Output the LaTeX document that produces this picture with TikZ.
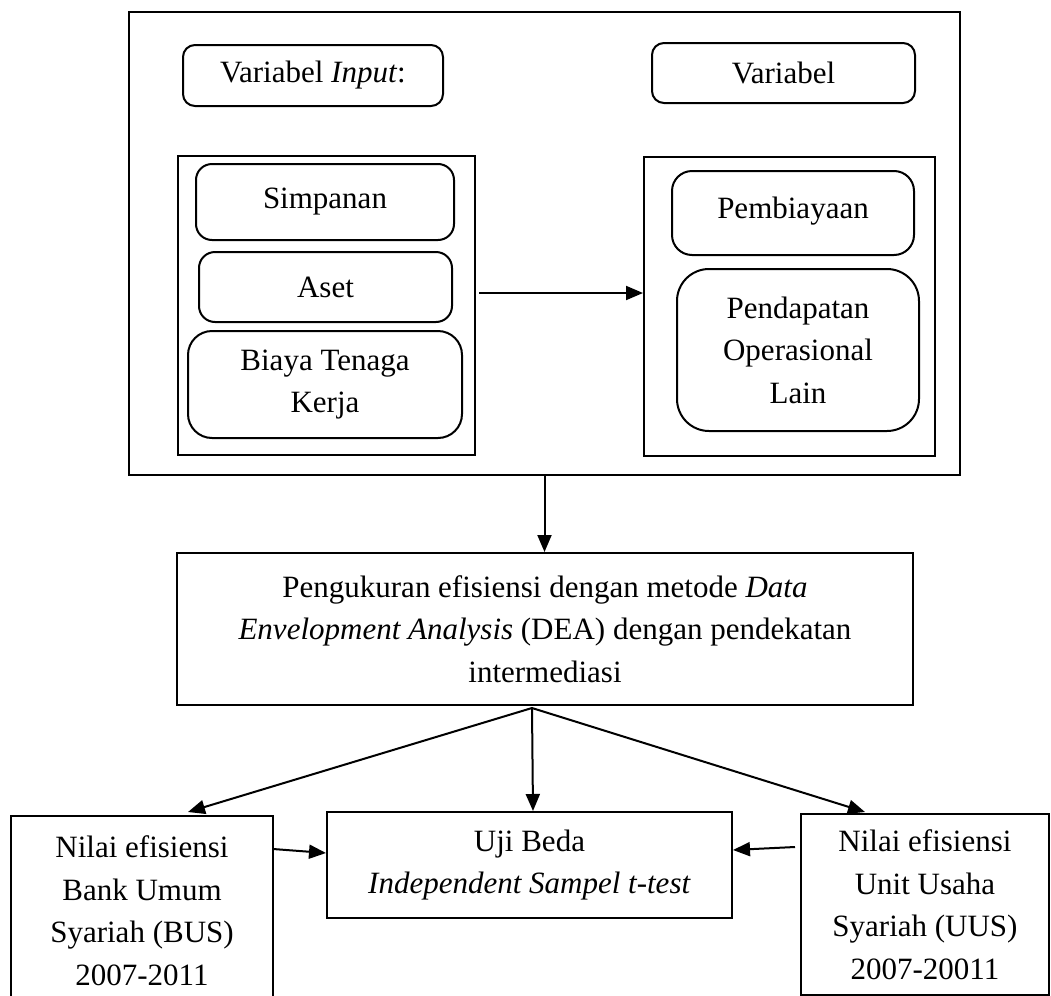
\documentclass[tikz,border=0pt]{standalone}
\usepackage{fontspec}
\setmainfont{Liberation Serif}
\usetikzlibrary{arrows.meta,calc}
\begin{document}
\begin{tikzpicture}[x=0.5pt,y=-0.5pt,
  box/.style={draw,line width=1pt,inner sep=0pt,align=center,
    font=\fontsize{15.5pt}{21.25pt}\selectfont},
  rbox/.style={box,rounded corners=#1},
  arr/.style={line width=1pt,-{Triangle[length=8.5pt,width=7pt]}}]
\useasboundingbox (0,0) rectangle (1051,996);
% outer frame
\node[box,minimum width=415.5pt,minimum height=231.5pt] (outer) at (544.5,243.5) {};
\node[rbox=6pt,minimum width=130pt,minimum height=30.5pt] (vin) at (313,75.5) {Variabel \textit{Input}:};
\node[rbox=6pt,minimum width=131.5pt,minimum height=30pt] (vout) at (783.5,73) {Variabel};
% left panel
\node[box,minimum width=148.5pt,minimum height=149.5pt] (lp) at (326.5,305.5) {};
\node[rbox=8pt,minimum width=129pt,minimum height=38pt] (simp) at (325,202) {Simpanan};
\node[rbox=8pt,minimum width=126.5pt,minimum height=35pt] (aset) at (325.5,287) {Aset};
\node[rbox=12pt,minimum width=137pt,minimum height=53.5pt] (biaya) at (325,384.5) {Biaya Tenaga\\Kerja};
% right panel
\node[box,minimum width=145.5pt,minimum height=149.5pt] (rp) at (789.5,306.5) {};
\node[rbox=10pt,minimum width=121pt,minimum height=42pt] (pemb) at (793,213) {\raisebox{5pt}{Pembiayaan}};
\node[rbox=16pt,minimum width=121pt,minimum height=81pt] (pend) at (798,350) {Pendapatan\\Operasional\\Lain};
\coordinate (a1) at (479,293);
\draw[arr] (a1) -- (a1 -| rp.west);
% DEA
\node[box,minimum width=368pt,minimum height=76pt] (dea) at (545,629)
  {Pengukuran efisiensi dengan metode \textit{Data}\\
   \textit{Envelopment Analysis} (DEA) dengan pendekatan\\
   intermediasi};
\coordinate (o1) at (outer.south);
\draw[arr] (o1) -- (o1 |- dea.north);
% bottom
\node[box,minimum width=202.5pt,minimum height=53pt] (uji) at (529.5,865)
  {Uji Beda\\\textit{Independent Sampel t-test}};
\node[box,minimum width=131pt,minimum height=94.5pt] (bus) at (142,910.5)
  {Nilai efisiensi\\Bank Umum\\Syariah (BUS)\\2007-2011};
\node[box,minimum width=124pt,minimum height=90.5pt] (uus) at (925,904.5)
  {Nilai efisiensi\\Unit Usaha\\Syariah (UUS)\\2007-20011};
\coordinate (br) at (532,708);
\coordinate (tl) at (188,812);
\coordinate (tm) at (533,811);
\coordinate (tr) at (865,812);
\draw[arr] (br) -- (tl);
\draw[arr] (br) -- (tm);
\draw[arr] (br) -- (tr);
\coordinate (l1) at (273,849);
\coordinate (l2) at (326,853);
\coordinate (r1) at (795,847);
\coordinate (r2) at (733,850);
\draw[arr] (l1) -- (l2);
\draw[arr] (r1) -- (r2);
\end{tikzpicture}
\end{document}
